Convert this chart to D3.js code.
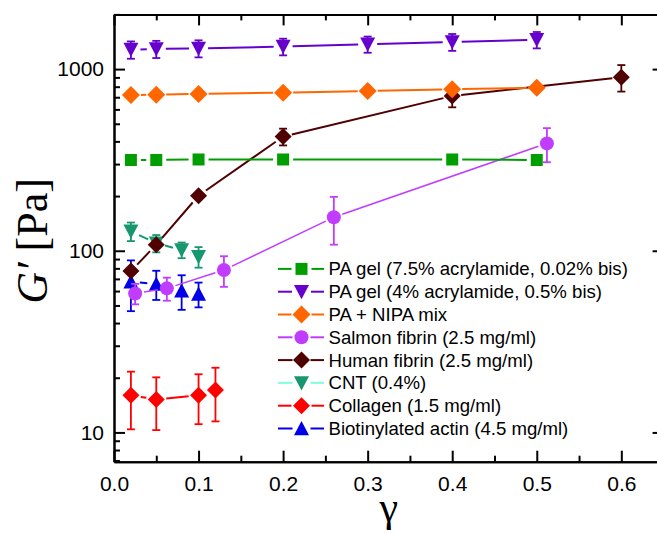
<!DOCTYPE html>
<html>
<head>
<meta charset="utf-8">
<script src="https://cdn.jsdelivr.net/npm/d3@7"></script>
<style>
  body { margin: 0; background: #fff; }
  svg { display: block; }
</style>
</head>
<body>
<svg id="chart" width="657" height="533"></svg>
<script>
// ---- data: storage modulus G' [Pa] versus strain amplitude gamma ----
const seriesNames = [
  "PA gel (7.5% acrylamide, 0.02% bis)",
  "PA gel (4% acrylamide, 0.5% bis)",
  "PA + NIPA mix",
  "Salmon fibrin (2.5 mg/ml)",
  "Human fibrin (2.5 mg/ml)",
  "CNT (0.4%)",
  "Collagen (1.5 mg/ml)",
  "Biotinylated actin (4.5 mg/ml)"
];

const paGel75X = [0.02, 0.05, 0.1, 0.2, 0.4, 0.5];
const paGel75Y = [316, 316, 318, 318, 318, 316];

const paGel4X = [0.02, 0.05, 0.1, 0.2, 0.3, 0.4, 0.5];
const paGel4Y = [1280, 1290, 1300, 1330, 1370, 1410, 1450];
const paGel4Err = [140, 140, 140, 140, 140, 150, 150];

const nipaX = [0.02, 0.05, 0.1, 0.2, 0.3, 0.4, 0.5];
const nipaY = [720, 722, 730, 742, 757, 774, 790];

const salmonX = [0.025, 0.0625, 0.13, 0.26, 0.512];
const salmonY = [58.2, 62.1, 78.3, 153, 390];
const salmonErr = [7.5, 9, 15, 45, 83];

const humanX = [0.02, 0.05, 0.1, 0.2, 0.4, 0.6];
const humanY = [77.3, 108, 201, 425, 711, 902];
const humanErr = [0, 0, 0, 45, 95, 150];

const cntX = [0.02, 0.05, 0.08, 0.1];
const cntY = [128, 110, 101, 92.7];
const cntErr = [15, 12, 10, 12];

const collagenX = [0.02, 0.05, 0.1, 0.12];
const collagenY = [16.0, 15.2, 16.0, 17.1];
const collagenErr = [5.6, 4.9, 4.9, 5.6];

const actinX = [0.02, 0.05, 0.08, 0.1];
const actinY = [67.5, 65.6, 60.3, 57.8];
const actinErr = [21, 12, 13, 9];

const xTicks = [0, 0.1, 0.2, 0.3, 0.4, 0.5, 0.6];
const xTickLabels = ["0.0", "0.1", "0.2", "0.3", "0.4", "0.5", "0.6"];
const yTicks = [10, 100, 1000];
const yTickLabels = ["10", "100", "1000"];

// ---- layout ----
const svg = d3.select("#chart");
const x = d3.scaleLinear().domain([0, 0.65]).range([114, 663.6]);
const y = d3.scaleLog().domain([6.9, 2000]).range([461.7, 14.4]);
const X0 = x.range()[0], X1 = x.range()[1];
const Y0 = y.range()[0], Y1 = y.range()[1];

const sans = "'Liberation Sans', Arial, Helvetica, sans-serif";
const serif = "'Liberation Serif', 'Times New Roman', Times, serif";

// ---- marker shapes ----
const shapes = {
  square: s => `M${-s/2},${-s/2}h${s}v${s}h${-s}Z`,
  triDown: s => `M${-s/2},${-s*0.45}L${s/2},${-s*0.45}L0,${s*0.5}Z`,
  triUp: s => `M${-s/2},${s*0.45}L${s/2},${s*0.45}L0,${-s*0.5}Z`,
  diamond: s => `M0,${-s/2}L${s/2},0L0,${s/2}L${-s/2},0Z`,
  circle: s => `M${-s/2},0a${s/2},${s/2} 0 1,0 ${s},0a${s/2},${s/2} 0 1,0 ${-s},0Z`
};

// ---- series table (draw order: later on top) ----
function pts(xs, ys, es) { return xs.map((v, i) => ({ x: v, y: ys[i], e: es ? es[i] : 0 })); }
const series = [
  { name: seriesNames[5], data: pts(cntX, cntY, cntErr), color: "#17976F", legendLine: "#80FFDD", shape: "triDown", size: 15, lw: 2, gap: 9 },
  { name: seriesNames[7], data: pts(actinX, actinY, actinErr), color: "#0000E6", shape: "triUp", size: 15, lw: 2, gap: 9 },
  { name: seriesNames[3], data: pts(salmonX, salmonY, salmonErr), color: "#C03CFF", shape: "circle", size: 14, lw: 1.5, gap: 9 },
  { name: seriesNames[4], data: pts(humanX, humanY, humanErr), color: "#500000", shape: "diamond", size: 17, lw: 2, gap: 9 },
  { name: seriesNames[0], data: pts(paGel75X, paGel75Y), color: "#009E00", shape: "square", size: 12, lw: 2, gap: 10 },
  { name: seriesNames[2], data: pts(nipaX, nipaY), color: "#FF6600", shape: "diamond", size: 18, lw: 2, gap: 10 },
  { name: seriesNames[1], data: pts(paGel4X, paGel4Y, paGel4Err), color: "#6600CC", shape: "triDown", size: 15, lw: 2, gap: 9.5 },
  { name: seriesNames[6], data: pts(collagenX, collagenY, collagenErr), color: "#FF0000", shape: "diamond", size: 17, lw: 2, gap: 10 }
];

// ---- axes ----
const axisColor = "#000";
function styleAxis(g) {
  g.selectAll("path.domain").attr("stroke", axisColor).attr("stroke-width", 2);
  g.selectAll(".tick line").attr("stroke", axisColor).attr("stroke-width", 2);
  g.selectAll("text").attr("font-family", sans).attr("font-size", 21).attr("fill", "#000");
}
const xMinor = d3.range(0.05, 0.65, 0.1).map(v => +v.toFixed(2));
const yMinor = [];
[1, 10, 100, 1000].forEach(d => { for (let k = 2; k <= 9; k++) { const v = d * k; if (v >= 6.9 && v <= 2000) yMinor.push(v); } });

// minor ticks
svg.append("g").attr("transform", `translate(0,${Y0})`)
  .call(d3.axisBottom(x).tickValues(xMinor).tickSizeInner(-6).tickSizeOuter(0).tickFormat(""))
  .call(styleAxis);
svg.append("g").attr("transform", `translate(0,${Y1})`)
  .call(d3.axisTop(x).tickValues(xMinor).tickSizeInner(-6).tickSizeOuter(0).tickFormat(""))
  .call(styleAxis);
svg.append("g").attr("transform", `translate(${X0},0)`)
  .call(d3.axisLeft(y).tickValues(yMinor).tickSizeInner(-6).tickSizeOuter(0).tickFormat(""))
  .call(styleAxis);
svg.append("g").attr("transform", `translate(${X1},0)`)
  .call(d3.axisRight(y).tickValues(yMinor).tickSizeInner(-6).tickSizeOuter(0).tickFormat(""))
  .call(styleAxis);

// major ticks and labels
svg.append("g").attr("transform", `translate(0,${Y0})`)
  .call(d3.axisBottom(x).tickValues(xTicks).tickSizeInner(-11).tickSizeOuter(0).tickPadding(14)
    .tickFormat((d, i) => xTickLabels[i]))
  .call(styleAxis);
svg.append("g").attr("transform", `translate(0,${Y1})`)
  .call(d3.axisTop(x).tickValues(xTicks).tickSizeInner(-11).tickSizeOuter(0).tickFormat(""))
  .call(styleAxis);
svg.append("g").attr("transform", `translate(${X0},0)`)
  .call(d3.axisLeft(y).tickValues(yTicks).tickSizeInner(-11).tickSizeOuter(0).tickPadding(10)
    .tickFormat((d, i) => yTickLabels[i]))
  .call(styleAxis);
svg.append("g").attr("transform", `translate(${X1},0)`)
  .call(d3.axisRight(y).tickValues(yTicks).tickSizeInner(-11).tickSizeOuter(0).tickFormat(""))
  .call(styleAxis);

// axis titles
svg.append("text")
  .attr("transform", `translate(47,241) rotate(-90)`)
  .attr("text-anchor", "middle")
  .attr("font-family", serif).attr("font-size", 44).attr("fill", "#000")
  .call(t => {
    t.append("tspan").attr("font-style", "italic").text("G′");
    t.append("tspan").text(" [Pa]");
  });
svg.append("text")
  .attr("x", (X0 + X1) / 2).attr("y", 521)
  .attr("text-anchor", "middle")
  .attr("font-family", serif).attr("font-size", 42).attr("fill", "#000")
  .text("γ");

// ---- connecting lines with small gaps at each marker ----
function gappedSegments(points, gap) {
  const segs = [];
  for (let i = 0; i < points.length - 1; i++) {
    const [ax, ay] = points[i], [bx, by] = points[i + 1];
    const L = Math.hypot(bx - ax, by - ay);
    if (L <= 2 * gap) continue;
    const ux = (bx - ax) / L, uy = (by - ay) / L;
    segs.push([ax + ux * gap, ay + uy * gap, bx - ux * gap, by - uy * gap]);
  }
  return segs;
}

const plot = svg.append("g");
series.forEach(s => {
  const g = plot.append("g");
  const px = s.data.map(d => [x(d.x), y(d.y)]);
  g.selectAll("line.seg").data(gappedSegments(px, s.gap)).join("line")
    .attr("x1", d => d[0]).attr("y1", d => d[1]).attr("x2", d => d[2]).attr("y2", d => d[3])
    .attr("stroke", s.color).attr("stroke-width", s.lw);
  // error bars
  const eb = s.data.filter(d => d.e > 0);
  g.selectAll("line.eb").data(eb).join("line")
    .attr("x1", d => x(d.x)).attr("x2", d => x(d.x))
    .attr("y1", d => y(d.y + d.e)).attr("y2", d => y(d.y - d.e))
    .attr("stroke", s.color).attr("stroke-width", 1.8);
  ["top", "bot"].forEach(k => {
    g.selectAll("line.cap" + k).data(eb).join("line")
      .attr("x1", d => x(d.x) - 4).attr("x2", d => x(d.x) + 4)
      .attr("y1", d => y(k === "top" ? d.y + d.e : d.y - d.e))
      .attr("y2", d => y(k === "top" ? d.y + d.e : d.y - d.e))
      .attr("stroke", s.color).attr("stroke-width", 1.8);
  });
  g.selectAll("path.mk").data(s.data).join("path")
    .attr("transform", d => `translate(${x(d.x)},${y(d.y)})`)
    .attr("d", shapes[s.shape](s.size))
    .attr("fill", s.color);
});

// ---- legend ----
const legendOrder = [0, 1, 2, 3, 4, 5, 6, 7];
const legend = svg.append("g");
legendOrder.forEach((idx, row) => {
  const s = series.find(d => d.name === seriesNames[idx]);
  const cy = 268.9 + row * 22.8;
  const lx0 = 278, lx1 = 324, mx = 301.5;
  const lc = s.legendLine || s.color;
  legend.append("line").attr("x1", lx0).attr("x2", mx - s.gap).attr("y1", cy).attr("y2", cy)
    .attr("stroke", lc).attr("stroke-width", 2);
  legend.append("line").attr("x1", mx + s.gap).attr("x2", lx1).attr("y1", cy).attr("y2", cy)
    .attr("stroke", lc).attr("stroke-width", 2);
  legend.append("path").attr("transform", `translate(${mx},${cy})`)
    .attr("d", shapes[s.shape](s.size)).attr("fill", s.color);
  legend.append("text").attr("x", 328.5).attr("y", cy).attr("dy", "0.35em")
    .attr("font-family", sans).attr("font-size", 18.6).attr("fill", "#000")
    .text(s.name);
});
</script>
</body>
</html>
